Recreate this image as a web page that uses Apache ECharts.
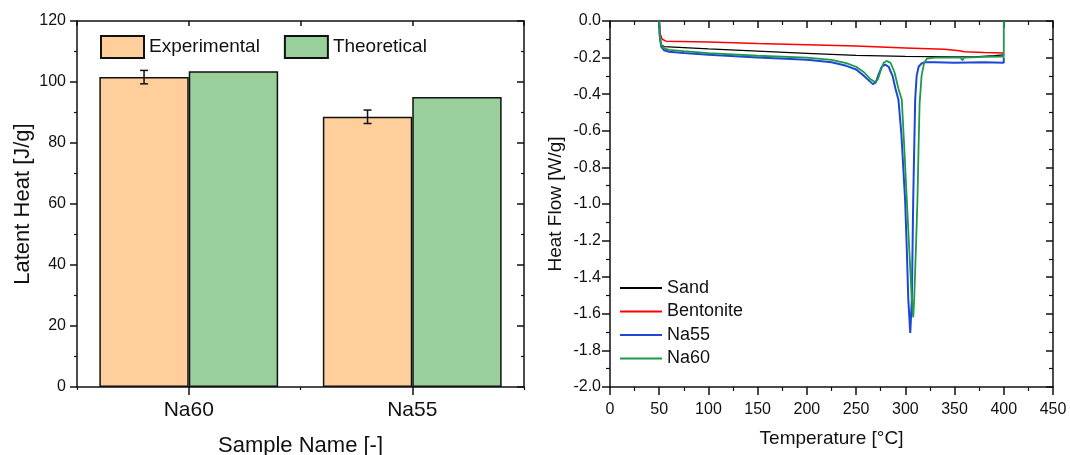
<!DOCTYPE html>
<html>
<head>
<meta charset="utf-8">
<style>
  html, body { margin: 0; padding: 0; background: #fff; }
  #chart { width: 1070px; height: 455px; }
</style>
<script src="https://cdn.jsdelivr.net/npm/echarts@6/dist/echarts.min.js"></script>
</head>
<body>
<div id="chart"></div>
<script>
// Latent heat per sample
const sampleNames = ['Na60', 'Na55'];
const experimental = [101.6, 88.6];
const experimentalErr = [2.2, 2.2];
const theoretical = [103.5, 95.1];

// DSC heat flow curves: [temperature °C, heat flow W/g]
const sand = [
  [50, 0], [50.5, -0.09], [52, -0.13], [55, -0.14], [100, -0.152], [150, -0.165],
  [200, -0.177], [250, -0.188], [300, -0.193], [350, -0.196], [370, -0.196],
  [390, -0.19], [400, -0.185]
];
const bentonite = [
  [50, 0], [51, -0.07], [53, -0.1], [57, -0.11], [100, -0.115], [150, -0.123],
  [200, -0.13], [250, -0.137], [300, -0.147], [340, -0.155], [355, -0.162],
  [360, -0.168], [380, -0.172], [400, -0.175]
];
const na55 = [
  [50, 0], [50.5, -0.08], [52, -0.14], [55, -0.16], [60, -0.168], [75, -0.175],
  [100, -0.185], [150, -0.2], [200, -0.212], [225, -0.225], [240, -0.245],
  [250, -0.265], [258, -0.3], [264, -0.33], [267, -0.345], [270, -0.335],
  [273, -0.29], [276, -0.25], [279.5, -0.238], [283, -0.25], [287, -0.3],
  [290, -0.37], [293, -0.43], [296, -0.62], [299.8, -0.98], [301.5, -1.25],
  [303, -1.52], [305, -1.705], [306.6, -1.52], [307.3, -1.25], [308, -0.98],
  [309, -0.7], [310, -0.43], [311.5, -0.3], [313.5, -0.25], [316.5, -0.232],
  [320, -0.225], [330, -0.225], [350, -0.228], [380, -0.226], [400, -0.228],
  [400, -0.2]
];
const na60 = [
  [50, 0], [50.5, -0.08], [52, -0.13], [55, -0.15], [60, -0.158], [75, -0.165],
  [100, -0.175], [150, -0.19], [200, -0.2], [225, -0.212], [240, -0.23],
  [250, -0.25], [258, -0.28], [264, -0.315], [269, -0.333], [272, -0.32],
  [275, -0.27], [278, -0.228], [281, -0.218], [285, -0.228], [289, -0.28],
  [293, -0.37], [296.4, -0.43], [299, -0.7], [301.5, -0.98], [304, -1.25],
  [306.6, -1.52], [308, -1.62], [309, -1.52], [310.7, -1.25], [312.3, -0.98],
  [313.4, -0.7], [314.5, -0.45], [316.5, -0.3], [319, -0.23], [322, -0.205],
  [330, -0.2], [356, -0.2], [358, -0.215], [360, -0.2], [380, -0.196],
  [400, -0.194], [400, 0]
];

const FONT = '"Liberation Sans", Arial, sans-serif';
const INK = '#111';
const frameLine = { show: true, onZero: false, lineStyle: { color: INK, width: 1.5 } };

const chart = echarts.init(document.getElementById('chart'), null, { renderer: 'canvas' });

const option = {
  animation: false,
  backgroundColor: '#fff',
  textStyle: { fontFamily: FONT },
  grid: [
    { left: 77, top: 21, width: 447, height: 366, outerBoundsMode: 'none', containLabel: false },
    { left: 610, top: 21, width: 443, height: 366, outerBoundsMode: 'none', containLabel: false }
  ],
  legend: [
    {
      data: ['Experimental', 'Theoretical'],
      left: 100, top: 35, padding: 0,
      itemWidth: 43, itemHeight: 22, itemGap: 24,
      icon: 'rect',
      textStyle: { fontFamily: FONT, fontSize: 19, color: INK }
    },
    {
      data: ['Sand', 'Bentonite', 'Na55', 'Na60'],
      orient: 'vertical',
      left: 620, top: 278, padding: 0,
      icon: 'rect',
      itemWidth: 42, itemHeight: 2, itemGap: 3.5,
      textStyle: { fontFamily: FONT, fontSize: 18, color: INK, lineHeight: 20 }
    }
  ],
  xAxis: [
    {
      type: 'category', gridIndex: 0, position: 'bottom',
      data: sampleNames,
      axisLine: frameLine,
      axisTick: { show: true, alignWithLabel: true, length: 8, lineStyle: { color: INK, width: 1.5 } },
      axisLabel: { fontSize: 21, color: INK, margin: 13, fontFamily: FONT },
      name: 'Sample Name [-]', nameLocation: 'middle', nameGap: 48,
      nameTextStyle: { fontSize: 22, color: INK, fontFamily: FONT },
      splitLine: { show: false }
    },
    {
      type: 'value', gridIndex: 0, position: 'top', min: 0, max: 2, interval: 0.5,
      axisLine: frameLine,
      axisTick: { show: true, inside: true, length: 5, lineStyle: { color: INK, width: 1.5 } },
      axisLabel: { show: false }, splitLine: { show: false }
    },
    {
      type: 'value', gridIndex: 0, position: 'bottom', min: 0, max: 2, interval: 1,
      axisLine: { show: false },
      axisTick: { show: true, length: 3, lineStyle: { color: INK, width: 1.2 } },
      axisLabel: { show: false }, splitLine: { show: false }
    },
    {
      type: 'value', gridIndex: 1, position: 'bottom', min: 0, max: 450, interval: 50,
      axisLine: frameLine,
      axisTick: { show: true, length: 8, lineStyle: { color: INK, width: 1.5 } },
      minorTick: { show: true, splitNumber: 2, length: 4, lineStyle: { color: INK, width: 1.2 } },
      axisLabel: { fontSize: 16, color: INK, margin: 15, fontFamily: FONT },
      name: 'Temperature [°C]', nameLocation: 'middle', nameGap: 42,
      nameTextStyle: { fontSize: 19, color: INK, fontFamily: FONT },
      splitLine: { show: false }, minorSplitLine: { show: false }
    },
    {
      type: 'value', gridIndex: 1, position: 'top', min: 0, max: 450, interval: 50,
      axisLine: frameLine,
      axisTick: { show: true, inside: true, length: 7, lineStyle: { color: INK, width: 1.5 } },
      minorTick: { show: true, splitNumber: 2, length: 4, lineStyle: { color: INK, width: 1.2 } },
      axisLabel: { show: false }, splitLine: { show: false }
    }
  ],
  yAxis: [
    {
      type: 'value', gridIndex: 0, position: 'left', min: 0, max: 120, interval: 20,
      axisLine: frameLine,
      axisTick: { show: true, length: 7, lineStyle: { color: INK, width: 1.5 } },
      minorTick: { show: true, splitNumber: 2, length: 3, lineStyle: { color: INK, width: 1.2 } },
      axisLabel: { fontSize: 16, color: INK, margin: 11, fontFamily: FONT },
      name: 'Latent Heat [J/g]', nameLocation: 'middle', nameGap: 43, nameRotate: 90,
      nameTextStyle: { fontSize: 22, color: INK, fontFamily: FONT },
      splitLine: { show: false }
    },
    {
      type: 'value', gridIndex: 0, position: 'right', min: 0, max: 120, interval: 20,
      axisLine: frameLine,
      axisTick: { show: true, inside: true, length: 7, lineStyle: { color: INK, width: 1.5 } },
      minorTick: { show: true, splitNumber: 2, length: 3, lineStyle: { color: INK, width: 1.2 } },
      axisLabel: { show: false }, splitLine: { show: false }
    },
    {
      type: 'value', gridIndex: 1, position: 'left', min: -2, max: 0, interval: 0.2,
      axisLine: frameLine,
      axisTick: { show: true, length: 8, lineStyle: { color: INK, width: 1.5 } },
      minorTick: { show: true, splitNumber: 2, length: 4, lineStyle: { color: INK, width: 1.2 } },
      axisLabel: {
        fontSize: 16, color: INK, margin: 9, fontFamily: FONT,
        formatter: v => (Math.abs(v) < 1e-9 ? 0 : v).toFixed(1)
      },
      name: 'Heat Flow [W/g]', nameLocation: 'middle', nameGap: 45, nameRotate: 90,
      nameTextStyle: { fontSize: 19, color: INK, fontFamily: FONT },
      splitLine: { show: false }, minorSplitLine: { show: false }
    },
    {
      type: 'value', gridIndex: 1, position: 'right', min: -2, max: 0, interval: 0.2,
      axisLine: frameLine,
      axisTick: { show: true, inside: true, length: 7, lineStyle: { color: INK, width: 1.5 } },
      minorTick: { show: true, splitNumber: 2, length: 4, lineStyle: { color: INK, width: 1.2 } },
      axisLabel: { show: false }, splitLine: { show: false }
    }
  ],
  series: [
    {
      name: 'Experimental', type: 'bar', xAxisIndex: 0, yAxisIndex: 0,
      data: experimental, barWidth: '40%', barGap: '0%',
      itemStyle: { color: '#ffcf9b', borderColor: INK, borderWidth: 1.5 }
    },
    {
      name: 'Theoretical', type: 'bar', xAxisIndex: 0, yAxisIndex: 0,
      data: theoretical, barWidth: '40%', barGap: '0%',
      itemStyle: { color: '#98cf9a', borderColor: INK, borderWidth: 1.5 }
    },
    {
      // error bars on the experimental bars (left half of each category)
      name: 'ExperimentalError', type: 'custom', xAxisIndex: 0, yAxisIndex: 0,
      data: experimental.map((v, i) => [i, v - experimentalErr[i], v + experimentalErr[i]]),
      z: 10,
      renderItem: (params, api) => {
        const band = api.size([1, 0])[0];
        const lo = api.coord([api.value(0), api.value(1)]);
        const hi = api.coord([api.value(0), api.value(2)]);
        const x = lo[0] - band * 0.2;
        const cap = 4;
        const style = { stroke: INK, lineWidth: 1.5 };
        return {
          type: 'group',
          children: [
            { type: 'line', shape: { x1: x, y1: lo[1], x2: x, y2: hi[1] }, style },
            { type: 'line', shape: { x1: x - cap, y1: lo[1], x2: x + cap, y2: lo[1] }, style },
            { type: 'line', shape: { x1: x - cap, y1: hi[1], x2: x + cap, y2: hi[1] }, style }
          ]
        };
      }
    },
    {
      name: 'Sand', type: 'line', xAxisIndex: 3, yAxisIndex: 2, data: sand,
      symbol: 'none', lineStyle: { color: '#000', width: 1.3 }, itemStyle: { color: '#000' }
    },
    {
      name: 'Bentonite', type: 'line', xAxisIndex: 3, yAxisIndex: 2, data: bentonite,
      symbol: 'none', lineStyle: { color: '#f00', width: 1.5 }, itemStyle: { color: '#f00' }
    },
    {
      name: 'Na55', type: 'line', xAxisIndex: 3, yAxisIndex: 2, data: na55,
      symbol: 'none', lineStyle: { color: '#1f47d6', width: 2 }, itemStyle: { color: '#1f47d6' }
    },
    {
      name: 'Na60', type: 'line', xAxisIndex: 3, yAxisIndex: 2, data: na60,
      symbol: 'none', lineStyle: { color: '#1c9a4a', width: 1.8 }, itemStyle: { color: '#1c9a4a' }
    }
  ]
};

chart.setOption(option);
</script>
</body>
</html>
